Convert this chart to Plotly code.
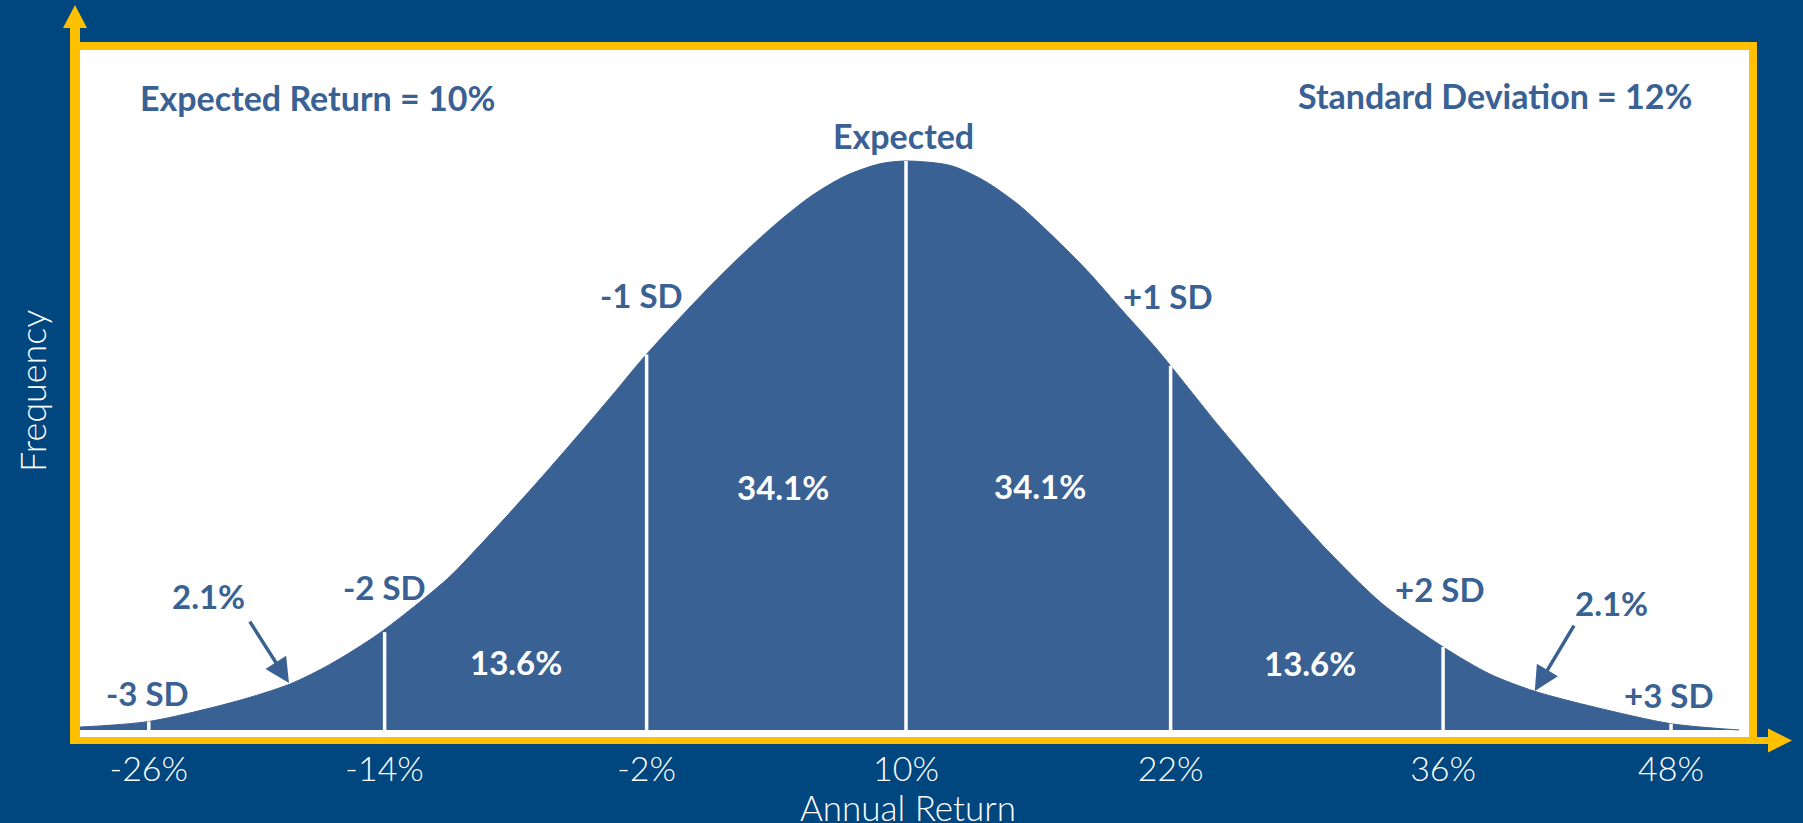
import plotly.graph_objects as go

# ---------------- data ----------------
# x in standard-deviation units from the expected return, y = relative frequency (peak = 1)
curve_x = [-3.16, -2.89, -2.56, -2.35, -2.20, -2.01, -1.75, -1.63, -1.50, -1.37,
           -1.24, -1.12, -1.01, -0.88, -0.75, -0.62, -0.49, -0.36, -0.23, -0.10,
           0.0, 0.17, 0.30, 0.43, 0.56, 0.69, 0.83, 0.96, 1.20,
           1.41, 1.61, 1.82, 2.05, 2.23, 2.40, 2.63, 2.92, 3.18]
curve_y = [0.005, 0.015, 0.050, 0.081, 0.115, 0.170, 0.266, 0.323, 0.388, 0.455,
           0.524, 0.589, 0.650, 0.716, 0.779, 0.838, 0.892, 0.939, 0.974, 0.995,
           1.000, 0.992, 0.965, 0.923, 0.868, 0.808, 0.735, 0.668, 0.531,
           0.417, 0.315, 0.221, 0.146, 0.098, 0.068, 0.040, 0.011, 0.000]

sd_positions = [-2.89, -1.99, -0.99, 0.0, 1.01, 2.05, 2.92]
sd_heights = [0.015, 0.172, 0.660, 1.0, 0.640, 0.146, 0.011]
sd_labels = ["-3 SD", "-2 SD", "-1 SD", "Expected", "+1 SD", "+2 SD", "+3 SD"]
tick_labels = ["-26%", "-14%", "-2%", "10%", "22%", "36%", "48%"]
region_labels = ["2.1%", "13.6%", "34.1%", "34.1%", "13.6%", "2.1%"]
title_left = "Expected Return = 10%"
title_right = "Standard Deviation = 12%"
x_title = "Annual Return"
y_title = "Frequency"

# ---------------- styling ----------------
NAVY = "#00467F"
FILL = "#3A6193"
YELLOW = "#FFC000"
FONT = "Lato"

W, H = 1803, 823
L, R, T, B = 80, 1749, 50, 737   # plot area in pixels


def px(xp):
    return (xp - L) / (R - L)


def py(yp):
    return (B - yp) / (B - T)


fig = go.Figure()

# filled bell curve
fig.add_trace(go.Scatter(
    x=curve_x, y=curve_y, mode="lines",
    line=dict(color=FILL, width=1, shape="spline", smoothing=0.8),
    fill="tozeroy", fillcolor=FILL, hoverinfo="skip", showlegend=False))

# white SD dividers
vx, vy = [], []
for p, h in zip(sd_positions, sd_heights):
    vx += [p, p, None]
    vy += [0, h, None]
fig.add_trace(go.Scatter(x=vx, y=vy, mode="lines", line=dict(color="white", width=3.5),
                         hoverinfo="skip", showlegend=False))

annotations = []

# SD labels above the curve
sd_label_offsets = [(-0.005, 0.050), (0.0, 0.079), (-0.02, 0.105), (-0.008, 0.044),
                    (-0.01, 0.123), (-0.01, 0.102), (-0.008, 0.051)]
for p, h, t, (dx, dy) in zip(sd_positions, sd_heights, sd_labels, sd_label_offsets):
    size = 34 if t == "Expected" else 33
    annotations.append(dict(x=p + dx, y=h + dy, xref="x", yref="y", text=t, showarrow=False,
                            font=dict(family=FONT, size=size, color=FILL, weight="bold")))

# region percentages
region_pos = [(-2.664, 0.2355), (-1.489, 0.1195), (-0.469, 0.427),
              (0.511, 0.429), (1.542, 0.118), (2.691, 0.223)]
for (x0, y0), t, i in zip(region_pos, region_labels, range(6)):
    col = FILL if i in (0, 5) else "white"
    annotations.append(dict(x=x0, y=y0, xref="x", yref="y", text=t, showarrow=False,
                            font=dict(family=FONT, size=33, color=col, weight="bold")))

# arrows to the 2.1% tails
for tip, tail in [((-2.355, 0.0826), (-2.508, 0.193)), ((2.40, 0.0685), (2.553, 0.186))]:
    annotations.append(dict(x=tip[0], y=tip[1], ax=tail[0], ay=tail[1], xref="x", yref="y",
                            axref="x", ayref="y", text="", showarrow=True, arrowhead=2,
                            arrowsize=1.4, arrowwidth=3.5, arrowcolor=FILL))

# headline texts
annotations.append(dict(x=px(138), y=py(97), xref="paper", yref="paper", text=title_left,
                        xanchor="left", yanchor="middle", showarrow=False,
                        font=dict(family=FONT, size=34, color=FILL, weight="bold")))
annotations.append(dict(x=px(1694), y=py(96), xref="paper", yref="paper", text=title_right,
                        xanchor="right", yanchor="middle", showarrow=False,
                        font=dict(family=FONT, size=34, color=FILL, weight="bold")))

# axis titles
annotations.append(dict(x=px(908), y=py(807), xref="paper", yref="paper", text=x_title,
                        showarrow=False, xanchor="center", yanchor="middle",
                        font=dict(family=FONT, size=35, color="white", weight=300)))
annotations.append(dict(x=px(32), y=py(391), xref="paper", yref="paper", text=y_title,
                        showarrow=False, xanchor="center", yanchor="middle", textangle=-90,
                        font=dict(family=FONT, size=36, color="white", weight=300)))

# yellow frame and axis arrows (decoration)
shapes = []
for (x0, y0, x1, y1) in [(70, 26, 80, 744), (70, 42, 1757, 50), (1749, 42, 1757, 744), (70, 737, 1770, 744)]:
    shapes.append(dict(type="rect", xref="paper", yref="paper", x0=px(x0), x1=px(x1),
                       y0=py(y1), y1=py(y0), fillcolor=YELLOW, line=dict(width=0), layer="above"))
shapes.append(dict(type="path", xref="paper", yref="paper",
                   path=f"M {px(75)} {py(5)} L {px(63)} {py(28)} L {px(87)} {py(28)} Z",
                   fillcolor=YELLOW, line=dict(width=0)))
shapes.append(dict(type="path", xref="paper", yref="paper",
                   path=f"M {px(1792)} {py(740.5)} L {px(1768)} {py(728.5)} L {px(1768)} {py(752.5)} Z",
                   fillcolor=YELLOW, line=dict(width=0)))

fig.update_layout(
    width=W, height=H,
    margin=dict(l=L, r=W - R, t=T, b=H - B, pad=0),
    paper_bgcolor=NAVY, plot_bgcolor="white",
    xaxis=dict(range=[(L - 906) / 262, (R - 906) / 262], tickmode="array", tickvals=sd_positions,
               ticktext=tick_labels, ticks="outside", ticklen=2, tickcolor="rgba(0,0,0,0)",
               tickfont=dict(family=FONT, size=34, color="white", weight=300),
               showgrid=False, zeroline=False, showline=False, fixedrange=True),
    yaxis=dict(range=[-7 / 569, (730 - 50) / 569], showticklabels=False, ticks="",
               showgrid=False, zeroline=False, showline=False, fixedrange=True),
    annotations=annotations, shapes=shapes, showlegend=False,
)

fig.write_html("out.html", config={"displayModeBar": False},
               post_script="document.body.style.margin='0';document.body.style.overflow='hidden';")
